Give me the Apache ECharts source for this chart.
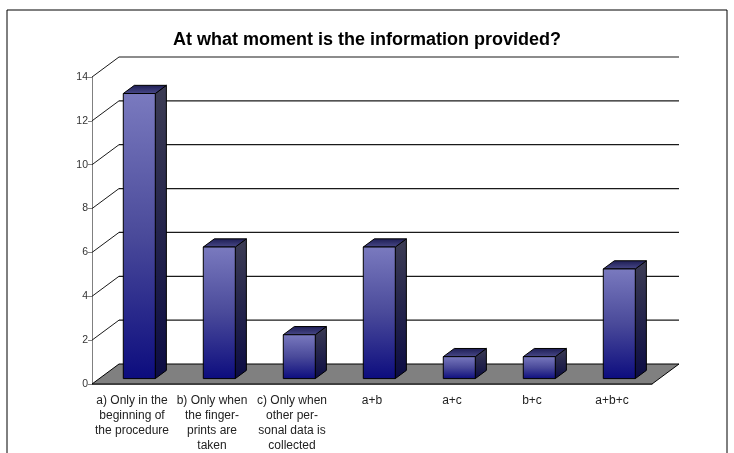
<!DOCTYPE html>
<html>
<head>
<meta charset="utf-8">
<title>At what moment is the information provided?</title>
<script src="https://cdn.jsdelivr.net/npm/echarts@6/dist/echarts.min.js"></script>
<style>
  html, body { margin: 0; padding: 0; background: #fff; }
  #chart { width: 734px; height: 453px; }
</style>
</head>
<body>
<div id="chart"></div>
<script>
// data
const categories = [
  'a) Only in the\nbeginning of\nthe procedure',
  'b) Only when\nthe finger-\nprints are\ntaken',
  'c) Only when\nother per-\nsonal data is\ncollected',
  'a+b',
  'a+c',
  'b+c',
  'a+b+c'
];
const answers = [13, 6, 2, 6, 1, 1, 5];
const yTicks = [0, 2, 4, 6, 8, 10, 12, 14];

// fake 3d depth (px)
const DEPTH_X = 27;
const DEPTH_Y = -20;
const FONT = 'Liberation Sans, Arial, sans-serif';

const frontGrad = () => new echarts.graphic.LinearGradient(0, 0, 0, 1, [
  { offset: 0, color: '#7a7abf' },
  { offset: 0.5, color: '#4a4a9a' },
  { offset: 1, color: '#0c0c7e' }
]);
const sideGrad = () => new echarts.graphic.LinearGradient(0, 0, 0, 1, [
  { offset: 0, color: '#3c3c54' },
  { offset: 1, color: '#0c0c44' }
]);
const topGrad = () => new echarts.graphic.LinearGradient(0, 0, 0, 1, [
  { offset: 0, color: '#1c1c52' },
  { offset: 1, color: '#4a4a8a' }
]);

// walls: floor at 0, back gridlines for the other ticks
const renderWall = (params, api) => {
  const cs = params.coordSys;
  const v = api.value(1);
  const y = api.coord([0, v])[1];
  const left = cs.x;
  const right = cs.x + cs.width;
  if (v === 0) {
    return {
      type: 'polygon',
      shape: { points: [[left, y], [right, y], [right + DEPTH_X, y + DEPTH_Y], [left + DEPTH_X, y + DEPTH_Y]] },
      style: { fill: '#808080', stroke: '#000', lineWidth: 1 }
    };
  }
  return {
    type: 'group',
    children: [
      {
        type: 'line',
        shape: { x1: left, y1: y, x2: left + DEPTH_X, y2: y + DEPTH_Y },
        style: { stroke: '#1a1a1a', lineWidth: 1 }
      },
      {
        type: 'line',
        shape: { x1: left + DEPTH_X, y1: y + DEPTH_Y, x2: right + DEPTH_X, y2: y + DEPTH_Y },
        style: { stroke: '#1a1a1a', lineWidth: 1.2 }
      }
    ]
  };
};

// 3d box bars
const renderBar = (params, api) => {
  const i = api.value(0);
  const v = api.value(1);
  const top = api.coord([i, v]);
  const base = api.coord([i, 0]);
  const bw = api.size([1, 0])[0] * 0.4;
  const ox = DEPTH_X * 0.27, oy = DEPTH_Y * 0.27;
  const bdx = DEPTH_X * 0.41, bdy = DEPTH_Y * 0.41;
  const x0 = top[0] - bw / 2 + ox;
  const x1 = x0 + bw;
  const yt = top[1] + oy;
  const yb = base[1] + oy;
  return {
    type: 'group',
    children: [
      {
        type: 'polygon',
        shape: { points: [[x1, yt], [x1 + bdx, yt + bdy], [x1 + bdx, yb + bdy], [x1, yb]] },
        style: { fill: sideGrad(), stroke: '#000', lineWidth: 1 }
      },
      {
        type: 'polygon',
        shape: { points: [[x0, yt], [x0 + bdx, yt + bdy], [x1 + bdx, yt + bdy], [x1, yt]] },
        style: { fill: topGrad(), stroke: '#000', lineWidth: 1 }
      },
      {
        type: 'rect',
        shape: { x: x0, y: yt, width: bw, height: yb - yt },
        style: { fill: frontGrad(), stroke: '#000', lineWidth: 1 }
      }
    ]
  };
};

const myChart = echarts.init(document.getElementById('chart'));
myChart.setOption({
  animation: false,
  backgroundColor: '#fff',
  title: {
    text: 'At what moment is the information provided?',
    left: 'center',
    top: 26,
    textStyle: { fontFamily: FONT, fontSize: 18, fontWeight: 'bold', color: '#000' }
  },
  graphic: [
    {
      type: 'rect',
      shape: { x: 7, y: 10, width: 720, height: 460 },
      style: { fill: 'none', stroke: '#000', lineWidth: 1 },
      z: 100
    }
  ],
  grid: { left: 92, right: 82, top: 77, bottom: 68 },
  xAxis: {
    type: 'category',
    data: categories,
    axisLine: { lineStyle: { color: '#808080' } },
    axisTick: { length: 6, lineStyle: { color: '#808080' } },
    axisLabel: {
      interval: 0,
      margin: 9,
      fontFamily: FONT,
      fontSize: 12,
      lineHeight: 15,
      color: '#222'
    }
  },
  yAxis: {
    type: 'value',
    min: 0,
    max: 14,
    interval: 2,
    axisLine: { show: true, lineStyle: { color: '#808080' } },
    axisTick: { show: true, length: 4, lineStyle: { color: '#808080' } },
    splitLine: { show: false },
    axisLabel: { fontFamily: FONT, fontSize: 10.5, color: '#333', margin: 4 }
  },
  series: [
    {
      type: 'custom',
      name: 'walls',
      clip: false,
      silent: true,
      renderItem: renderWall,
      data: yTicks.map(v => [0, v]),
      encode: { x: 0, y: 1 },
      z: 1
    },
    {
      type: 'custom',
      name: 'answers',
      clip: false,
      renderItem: renderBar,
      data: answers.map((v, i) => [i, v]),
      encode: { x: 0, y: 1 },
      z: 3
    }
  ]
});
</script>
</body>
</html>
